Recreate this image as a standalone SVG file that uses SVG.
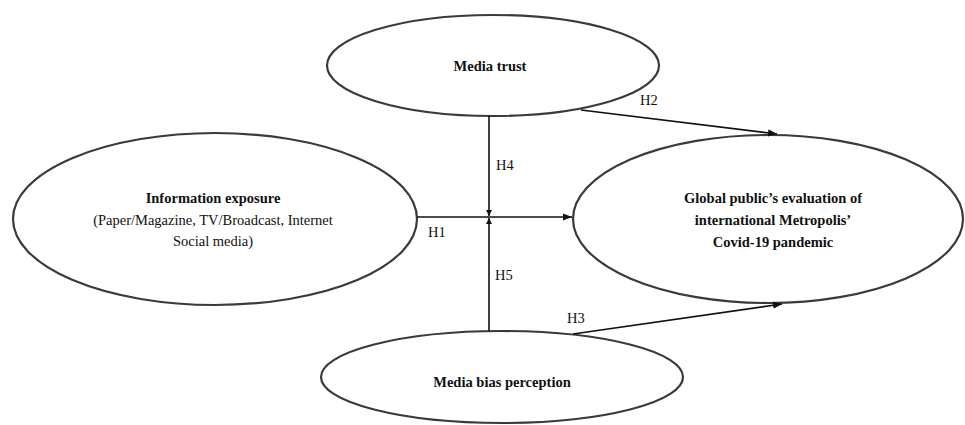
<svg xmlns="http://www.w3.org/2000/svg" width="965" height="425" viewBox="0 0 965 425">
<defs>
<style>
.node{fill:#fff;stroke:#3a3a3a;stroke-width:2.2}
.edge{stroke:#111;stroke-width:1.6;fill:none}
.t{font-family:"Liberation Serif","Times New Roman",serif;font-size:14.5px;fill:#111}
.b{font-weight:bold}
</style>
<marker id="ah" viewBox="0 0 10 10" refX="10" refY="5" markerWidth="6" markerHeight="6" markerUnits="userSpaceOnUse" orient="auto"><path d="M0,0 L10,5 L0,10 z" fill="#111"/></marker>
<marker id="ahs" viewBox="0 0 10 10" refX="10" refY="5" markerWidth="9" markerHeight="9" markerUnits="userSpaceOnUse" orient="auto"><path d="M0,1 L10,5 L0,9 z" fill="#111"/></marker>
</defs>
<rect width="965" height="425" fill="#fff"/>
<g id="media-trust">
<ellipse class="node" cx="493" cy="65.5" rx="166" ry="50.5"/>
<text class="t b" x="490" y="71" text-anchor="middle">Media trust</text>
</g>
<g id="information-exposure">
<ellipse class="node" cx="215" cy="219" rx="202" ry="86"/>
<text class="t b" x="213" y="203" text-anchor="middle">Information exposure</text>
<text class="t" x="213" y="225" text-anchor="middle">(Paper/Magazine, TV/Broadcast, Internet</text>
<text class="t" x="213" y="246" text-anchor="middle">Social media)</text>
</g>
<g id="global-evaluation">
<ellipse class="node" cx="768" cy="219" rx="195" ry="84"/>
<text class="t b" x="773" y="203" text-anchor="middle">Global public’s evaluation of</text>
<text class="t b" x="773" y="225" text-anchor="middle">international Metropolis’</text>
<text class="t b" x="773" y="247" text-anchor="middle">Covid-19 pandemic</text>
</g>
<g id="media-bias">
<ellipse class="node" cx="502" cy="377" rx="181" ry="46"/>
<text class="t b" x="502" y="387" text-anchor="middle">Media bias perception</text>
</g>
<g id="connectors">
<line class="edge" x1="417" y1="217" x2="572" y2="217" marker-end="url(#ahs)"/>
<line class="edge" x1="489" y1="116" x2="489" y2="216" marker-end="url(#ah)"/>
<line class="edge" x1="489" y1="331" x2="489" y2="218" marker-end="url(#ah)"/>
<line class="edge" x1="581" y1="110" x2="777" y2="134" marker-end="url(#ahs)"/>
<line class="edge" x1="573" y1="334" x2="782" y2="304" marker-end="url(#ahs)"/>
<text class="t" x="428" y="237">H1</text>
<text class="t" x="640" y="105">H2</text>
<text class="t" x="567" y="323">H3</text>
<text class="t" x="496" y="170">H4</text>
<text class="t" x="495" y="280">H5</text>
</g>
</svg>
